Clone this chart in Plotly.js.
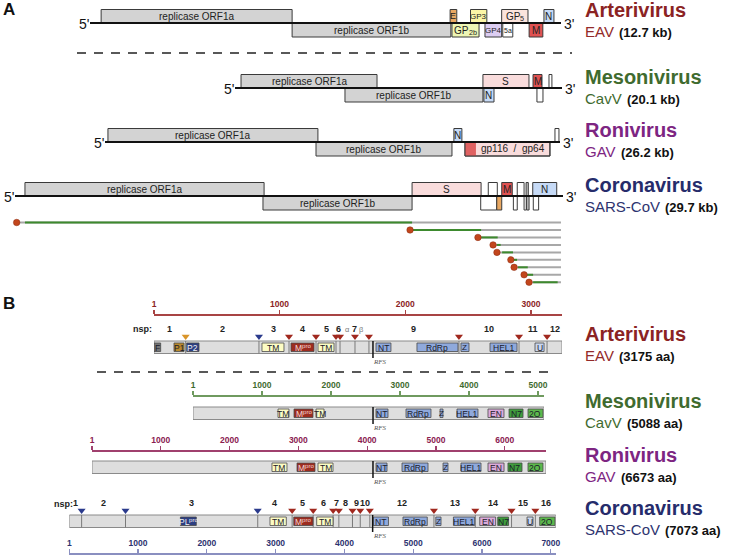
<!DOCTYPE html>
<html><head><meta charset="utf-8">
<script src="https://cdn.plot.ly/plotly-3.0.1.min.js"></script>
<style>html,body{margin:0;padding:0;background:#fff}#chart{width:731px;height:555px}</style>
</head><body><div id="chart"></div>
<script>
// ================= DATA =================
const genusNames = ['Arterivirus','Mesonivirus','Ronivirus','Coronavirus'];
const virusNames = ['EAV','CavV','GAV','SARS-CoV'];
const genomeKb   = [12.7, 20.1, 26.2, 29.7];
const proteinAa  = [3175, 5088, 6673, 7073];

// ---- Panel A: ORFs (kb), frame 1 = above the genome line, 0 = below ----
// label given as [main text, subscript]
const eavOrfLabel = [['replicase ORF1a',''],['replicase ORF1b',''],['E',''],['GP','2b'],['GP3',''],['GP4',''],['5a',''],['GP','5'],['M',''],['N','']];
const eavOrfStart = [0.30, 5.45, 9.71, 9.76, 10.26, 10.65, 11.13, 11.10, 11.84, 12.24];
const eavOrfEnd   = [5.45, 9.73, 9.89, 10.49, 10.70, 11.10, 11.40, 11.81, 12.21, 12.51];
const eavOrfFrame = [1,0,1,0,1,0,0,1,0,1];
const eavOrfKind  = ['rep','rep','E','GP2b','GP3','GP4','blank','GP5','M','N'];

const cavOrfLabel = [['replicase ORF1a',''],['replicase ORF1b',''],['N',''],['S',''],['M',''],['',''],['','']];
const cavOrfStart = [0.37, 6.76, 15.30, 15.24, 18.32, 18.56, 19.30];
const cavOrfEnd   = [8.73, 15.24, 15.92, 18.07, 18.87, 18.93, 19.48];
const cavOrfFrame = [1,0,0,1,1,0,1];
const cavOrfKind  = ['rep','rep','N','S','M','blank','blank'];

const gavOrfLabel = [['replicase ORF1a',''],['replicase ORF1b',''],['N',''],['',''],['',''],['','']];
const gavOrfStart = [0.17, 12.15, 20.09, 20.73, 20.73, 25.91];
const gavOrfEnd   = [12.26, 19.98, 20.55, 25.62, 21.36, 26.14];
const gavOrfFrame = [1,0,1,0,0,1];
const gavOrfKind  = ['rep','rep','N','gp','sig','blank'];
const gavGpLabel  = 'gp116  /  gp64';

const sarsOrfLabel = [['replicase ORF1a',''],['replicase ORF1b',''],['S',''],['',''],['',''],['',''],['M',''],['',''],['',''],['',''],['',''],['',''],['N',''],['','']];
const sarsOrfStart = [0.54, 13.44, 21.52, 25.65, 25.24, 26.11, 26.38, 27.01, 27.22, 27.70, 27.59, 27.73, 28.06, 28.09];
const sarsOrfEnd   = [13.50, 21.52, 25.26, 26.14, 26.11, 26.38, 26.95, 27.22, 27.59, 27.82, 27.71, 27.86, 29.36, 28.38];
const sarsOrfFrame = [1,0,1,1,0,0,1,0,1,1,0,0,1,0];
const sarsOrfKind  = ['rep','rep','S','blank','blank','E','M','blank','blank','gray','blank','gray','N','blank'];

// SARS-CoV genome + subgenomic mRNAs (kb)
const sgLeader    = [0.09, 21.41, 25.09, 25.91, 26.12, 26.87, 27.05, 27.59, 27.86];
const sgBodyStart = [0.54, 21.52, 25.26, 26.11, 26.40, 26.99, 27.26, 27.70, 28.08];
const sgBodyEnd   = [21.52, 25.26, 26.16, 26.32, 26.99, 27.21, 27.79, 28.08, 29.41];
const sgPolyEnd   = 29.59;

// ---- Panel B: polyproteins (aa) ----
const protBarEnd = [3247, 5088, 6600, 7073];
const rulerTicks = [[1,1000,2000,3000],[1,1000,2000,3000,4000,5000],[1,1000,2000,3000,4000,5000,6000],[1,1000,2000,3000,4000,5000,6000,7000]];
const protRfs    = [1743, 2610, 4085, 4410];

// domain label given as [main text, superscript]
const eavDomName  = [['F',''],['P1',''],['P2',''],['TM',''],['M','pro'],['TM',''],['NT',''],['RdRp',''],['Z',''],['HEL1',''],['U','']];
const eavDomStart = [1,160,261,860,1091,1306,1767,2093,2443,2674,3032];
const eavDomEnd   = [54,240,359,1035,1274,1433,1886,2419,2507,2889,3104];
const eavDomKind  = ['F','P1','P2','TM','Mpro','TM','blue','blue','blue','blue','U'];
const eavSites    = [253,836,1075,1290,1449,1481,1600,1711,2427,2905,3128];
const eavSiteKind = ['o','b','r','r','r','r','r','r','r','r','r'];
const eavNspBounds = [1,253,836,1075,1290,1449,1481,1711,2427,2905,3128,3247];
const eavNspLabels = ['1','2','3','4','5','6','7','9','10','11','12'];
const eavGreekBounds = [1481,1600,1711];
const eavGreekLabels = ['α','β'];

const cavDomName  = [['TM',''],['M','pro'],['TM',''],['NT',''],['RdRp',''],['Z',''],['HEL1',''],['EN',''],['N7',''],['2O','']];
const cavDomStart = [1233,1465,1784,2653,3088,3581,3827,4276,4581,4856];
const cavDomEnd   = [1392,1740,1900,2827,3450,3624,4131,4508,4784,5073];
const cavDomKind  = ['TM','Mpro','TM','blue','blue','blue','blue','EN','N7','O2'];

const gavDomName  = [['TM',''],['M','pro'],['TM',''],['NT',''],['RdRp',''],['Z',''],['HEL1',''],['EN',''],['N7',''],['2O','']];
const gavDomStart = [2617,2981,3286,4129,4507,5103,5364,5757,6047,6338];
const gavDomEnd   = [2835,3242,3504,4289,4885,5175,5655,5990,6251,6556];
const gavDomKind  = ['TM','Mpro','TM','blue','blue','blue','blue','EN','N7','O2'];

const sarsDomName  = [['PL','pro'],['TM',''],['M','pro'],['TM',''],['NT',''],['RdRp',''],['Z',''],['HEL1',''],['EN',''],['N7',''],['U',''],['2O','']];
const sarsDomStart = [1616,2918,3263,3597,4420,4851,5328,5584,5967,6228,6654,6838];
const sarsDomEnd   = [1847,3155,3543,3834,4640,5204,5404,5893,6198,6385,6741,7060];
const sarsDomKind  = ['PL','TM','Mpro','TM','blue','blue','blue','blue','EN','N7','U','O2'];
const sarsSites    = [180,818,2740,3240,3546,3836,3919,4117,4230,4369,5301,5902,6429,6775];
const sarsSiteKind = ['b','b','b','r','r','r','r','r','r','r','r','r','r','r'];
const sarsNspBounds = [1,180,818,2740,3240,3546,3836,3919,4117,4230,4369,5301,5902,6429,6775,7073];
const sarsNspLabels = ['1','2','3','4','5','6','7','8','9','10','12','13','14','15','16'];

// ================= LAYOUT / STYLE =================
const W = 731, H = 555;
const FAM = 'Liberation Sans';
const FONT = 'Liberation Sans, Arial, Helvetica, sans-serif';
const genusColor = ['#8b2323','#3f6b2f','#7d2582','#262c6b'];
const virusColor = ['#932a2a','#3f6b2f','#7d2582','#2d336f'];
const rulerLine  = ['#a84444','#6f9a5f','#a0406e','#8a8fc0'];
const rulerText  = ['#8b2323','#3f6b2f','#8a2050','#2d336f'];

const genomeBaseY = [23, 88, 142, 196];
const genomePx    = [[90,561],[235,562],[105,560],[15,563]];
const orfH = 13.5;
const genusLabelYA = [10, 77, 130, 185];

const protBarTop = [341, 407, 461, 515];
const protBarH = 12.5;
const rulerY   = [314, 395, 450, 553];
const protPx1  = [154, 193, 92, 69.3];
const protPxPerAa = [0.1257, 0.069, 0.0688, 0.0688];
const genusLabelYB = [334, 401, 455, 508];

const orfFill = {rep:'#d3d3d3', E:'#e9a862', GP2b:'#eef6b4', GP3:'#fbf6a6', GP4:'#dccdf2', GP5:'#fbe4dc',
  M:'#e05252', N:'#c6daf6', S:'#f9dcdc', gp:'#f9dcdc', sig:'#e06262', blank:'#ffffff', gray:'#c4c4c4'};
const orfFontSize = {rep:10, E:9, GP2b:10, GP3:8, GP4:8, GP5:10, M:10, N:10, S:10, gp:10, blank:7, sig:7, gray:7};
const domFill = {F:'#767676', P1:'#b9892e', P2:'#2d3f82', PL:'#2d3f82', TM:'#fdfcc4', Mpro:'#9c2c20',
  blue:'#8fa9dc', U:'#c9d6ef', EN:'#dbaadb', N7:'#3f9c3c', O2:'#5cb84c'};
const domText = {P2:'#f2f2f2', PL:'#f2f2f2', Mpro:'#f4d8d2'};
const siteColor = {o:'#d9952a', b:'#2a3a8c', r:'#a0281e'};

const shapes = [], annotations = [], traces = [];
const ctx = document.createElement('canvas').getContext('2d');
function measure(text, size, bold){
  ctx.font = (bold ? 'bold ' : '') + size + 'px "' + FAM + '", Arial, sans-serif';
  return ctx.measureText(text).width;
}

function rect(xref, x0, x1, y0, y1, fill, lc, lw){
  shapes.push({type:'rect', xref:xref, yref:'y', x0:x0, x1:x1, y0:y0, y1:y1,
    fillcolor:fill, line:{color:lc, width:lw}, layer:'above'});
}
function seg(xref, x0, x1, y0, y1, color, w, dash){
  shapes.push({type:'line', xref:xref, yref:'y', x0:x0, x1:x1, y0:y0, y1:y1,
    line:{color:color, width:w, dash:dash||'solid'}, layer:'above'});
}
function txt(xref, x, y, text, size, color, extra, fontExtra){
  annotations.push(Object.assign({xref:xref, yref:'y', x:x, y:y, text:text, showarrow:false,
    font:Object.assign({family:FONT, size:size, color:color}, fontExtra||{}),
    xanchor:'center', yanchor:'middle', borderpad:0, borderwidth:0}, extra||{}));
}
// centred label with an optional raised (sup) or lowered (sub) small part
function lbl(xref, xc, yc, main, small, size, color, lower){
  if (!small) { txt(xref, xc, yc, main, size, color); return; }
  const s2 = size * 0.72;
  const w1 = measure(main, size), w2 = measure(small, s2), tot = w1 + w2;
  txt(xref, xc, yc, main, size, color, {xanchor:'left', xshift:-tot / 2});
  txt(xref, xc, yc, small, s2, color, {xanchor:'left', xshift:-tot / 2 + w1, yshift: lower ? -2.5 : 2.5});
}

// ---------- Panel A ----------
const orfSets = [
  [eavOrfLabel, eavOrfStart, eavOrfEnd, eavOrfFrame, eavOrfKind],
  [cavOrfLabel, cavOrfStart, cavOrfEnd, cavOrfFrame, cavOrfKind],
  [gavOrfLabel, gavOrfStart, gavOrfEnd, gavOrfFrame, gavOrfKind],
  [sarsOrfLabel, sarsOrfStart, sarsOrfEnd, sarsOrfFrame, sarsOrfKind]
];
orfSets.forEach((set, g) => {
  const xr = 'x' + (g + 2), base = genomeBaseY[g];
  const [lab, st, en, fr, kd] = set;
  for (let k = 0; k < st.length; k++) {
    const y0 = fr[k] ? base - orfH : base, y1 = fr[k] ? base : base + orfH + 0.5;
    const lc = kd[k] === 'sig' ? 'rgba(0,0,0,0)' : '#3a3a3a';
    rect(xr, st[k], en[k], y0, y1, orfFill[kd[k]], lc, 1);
    if (lab[k][0]) lbl(xr, (st[k] + en[k]) / 2, (y0 + y1) / 2, lab[k][0], lab[k][1], orfFontSize[kd[k]], '#222', true);
  }
  if (g === 2) {
    const gi = gavOrfKind.indexOf('gp'), si = gavOrfKind.indexOf('sig');
    rect(xr, gavOrfStart[gi], gavOrfEnd[gi], base, base + orfH + 0.5, 'rgba(0,0,0,0)', '#3a3a3a', 1);
    txt(xr, (gavOrfEnd[si] + gavOrfEnd[gi]) / 2, base + orfH / 2, gavGpLabel, 10, '#222');
  }
  seg(xr, 0, genomeKb[g], base, base, '#111', 2);
  txt(xr, 0, base + 1, "5'", 14, '#111', {xanchor:'right', xshift:-1});
  txt(xr, genomeKb[g], base + 1, "3'", 14, '#111', {xanchor:'left', xshift:3});
  traces.push({type:'scatter', x:[0, genomeKb[g]], y:[-50, -50], xaxis:xr, yaxis:'y', mode:'markers',
    marker:{opacity:0}, hoverinfo:'skip', showlegend:false});
  txt('x', 585, genusLabelYA[g], '<b>' + genusNames[g] + '</b>', 20, genusColor[g], {xanchor:'left'});
  const wName = measure(virusNames[g] + ' ', 15);
  txt('x', 585, genusLabelYA[g] + 21, virusNames[g], 15, virusColor[g], {xanchor:'left'});
  txt('x', 585 + wName + 1, genusLabelYA[g] + 22, '<b>(' + genomeKb[g].toFixed(1) + ' kb)</b>', 13, '#111', {xanchor:'left'});
});

// sub-genomic mRNAs (SARS-CoV axis)
const sgY0 = 222.5, sgDy = 7.47;
const grayX = [], grayY = [], greenX = [], greenY = [], dotY = [];
sgLeader.forEach((d, i) => {
  const y = sgY0 + i * sgDy;
  grayX.push(d, sgPolyEnd, null); grayY.push(y, y, null);
  greenX.push(sgBodyStart[i], sgBodyEnd[i], null); greenY.push(y, y, null);
  dotY.push(y);
});
traces.push({type:'scatter', x:grayX, y:grayY, xaxis:'x5', yaxis:'y', mode:'lines',
  line:{color:'#a8a8a8', width:2}, hoverinfo:'skip', showlegend:false, cliponaxis:false});
traces.push({type:'scatter', x:greenX, y:greenY, xaxis:'x5', yaxis:'y', mode:'lines',
  line:{color:'#3d8a2e', width:2}, hoverinfo:'skip', showlegend:false, cliponaxis:false});
traces.push({type:'scatter', x:sgLeader, y:dotY, xaxis:'x5', yaxis:'y', mode:'markers',
  marker:{symbol:'circle', size:6.5, color:'#c2461c', line:{color:'#8a2a10', width:0.5}},
  hoverinfo:'skip', showlegend:false, cliponaxis:false});

seg('x', 77, 572, 53, 53, '#222', 1.5, '9px,8px');

// ---------- Panel B ----------
const protSets = [
  {dn:eavDomName, ds:eavDomStart, de:eavDomEnd, dk:eavDomKind, sites:eavSites, sk:eavSiteKind, nb:eavNspBounds, nl:eavNspLabels},
  {dn:cavDomName, ds:cavDomStart, de:cavDomEnd, dk:cavDomKind, sites:[], sk:[], nb:null, nl:null},
  {dn:gavDomName, ds:gavDomStart, de:gavDomEnd, dk:gavDomKind, sites:[], sk:[], nb:null, nl:null},
  {dn:sarsDomName, ds:sarsDomStart, de:sarsDomEnd, dk:sarsDomKind, sites:sarsSites, sk:sarsSiteKind, nb:sarsNspBounds, nl:sarsNspLabels}
];
const layoutAxes = {};
protSets.forEach((P, i) => {
  const xr = 'x' + (i + 6), top = protBarTop[i], bot = top + protBarH, end = protBarEnd[i];
  layoutAxes['xaxis' + (i + 6)] = {
    domain:[protPx1[i] / W, (protPx1[i] + (end - 1) * protPxPerAa[i]) / W],
    range:[1, end], anchor:'free', position:1 - rulerY[i] / H, side:'top',
    showline:true, linecolor:rulerLine[i], linewidth:1.5, ticks:'outside', ticklen:4, tickwidth:1.2,
    tickcolor:rulerLine[i], tickmode:'array', tickvals:rulerTicks[i],
    ticktext:rulerTicks[i].map(v => String(v)),
    tickfont:{family:FONT, size:8.5, color:rulerText[i], weight:'bold'}, showgrid:false, zeroline:false, fixedrange:true
  };
  rect(xr, 1, end, top, bot, '#dedede', '#8a8a8a', 1);
  P.sites.forEach(s => seg(xr, s, s, top, bot, '#7a7a7a', 1));
  for (let k = 0; k < P.ds.length; k++) {
    rect(xr, P.ds[k], P.de[k], top + 2, bot - 2, domFill[P.dk[k]], '#4a4a4a', 0.8);
    const fs = P.dn[k][0] === 'Z' ? 8 : 8.5;
    lbl(xr, (P.ds[k] + P.de[k]) / 2, (top + bot) / 2 + 0.3, P.dn[k][0], P.dn[k][1], fs, domText[P.dk[k]] || '#1a1a2a', false);
  }
  seg(xr, protRfs[i], protRfs[i], top, bot + 4.5, '#111', 1.5);
  txt(xr, protRfs[i], bot + 8, 'RFS', 7, '#555', {xanchor:'left'},
      {family:'Liberation Serif, Times New Roman, serif', style:'italic'});
  traces.push({type:'scatter', x:P.sites.length ? P.sites : [1, end], y:P.sites.length ? P.sites.map(() => top - 4.5) : [-50, -50],
    xaxis:xr, yaxis:'y', mode:'markers',
    marker:{symbol:'triangle-down', size:7, color:P.sites.length ? P.sk.map(k => siteColor[k]) : '#fff', opacity:P.sites.length ? 1 : 0, line:{width:0}},
    hoverinfo:'skip', showlegend:false, cliponaxis:false});
  if (P.nb) {
    const ly = top - 12;
    P.nl.forEach((l, k) => txt(xr, (P.nb[k] + P.nb[k + 1]) / 2, ly, l, 9, '#222', {}, {weight:'bold'}));
  }
  txt('x', 585, genusLabelYB[i], genusNames[i], 20, genusColor[i], {xanchor:'left'}, {weight:'bold'});
  const wName = measure(virusNames[i] + ' ', 15);
  txt('x', 585, genusLabelYB[i] + 21, virusNames[i], 15, virusColor[i], {xanchor:'left'});
  txt('x', 585 + wName + 1, genusLabelYB[i] + 22, '(' + proteinAa[i] + ' aa)', 13, '#111', {xanchor:'left'}, {weight:'bold'});
});
// alpha / beta labels of EAV nsp7
eavGreekLabels.forEach((l, k) => txt('x6', (eavGreekBounds[k] + eavGreekBounds[k + 1]) / 2, protBarTop[0] - 12, l, 7.5, '#777'));
txt('x', 152, protBarTop[0] - 12, 'nsp:', 9, '#222', {xanchor:'right'}, {weight:'bold'});
txt('x', 73, protBarTop[3] - 11, 'nsp:', 9, '#222', {xanchor:'right'}, {weight:'bold'});

seg('x', 97, 555, 372, 372, '#222', 1.5, '9px,8px');

// Panel letters
txt('x', 9, 9, 'A', 17, '#111', {}, {weight:'bold'});
txt('x', 9, 303, 'B', 17, '#111', {}, {weight:'bold'});

// ---------- Layout ----------
const layout = Object.assign({
  width:W, height:H, autosize:false,
  margin:{l:0, r:0, t:0, b:0, pad:0},
  paper_bgcolor:'#ffffff', plot_bgcolor:'rgba(0,0,0,0)',
  showlegend:false, hovermode:false,
  font:{family:FONT},
  xaxis:{domain:[0,1], range:[0,W], visible:false, fixedrange:true},
  yaxis:{domain:[0,1], range:[H,0], visible:false, fixedrange:true},
  shapes:shapes, annotations:annotations
}, layoutAxes);
for (let g = 0; g < 4; g++) {
  layout['xaxis' + (g + 2)] = {domain:[genomePx[g][0] / W, genomePx[g][1] / W], range:[0, genomeKb[g]],
    visible:false, anchor:'y', fixedrange:true};
}
traces.unshift({type:'scatter', x:[0, W], y:[-50, -50], xaxis:'x', yaxis:'y', mode:'markers', marker:{opacity:0}, hoverinfo:'skip', showlegend:false});

Plotly.newPlot('chart', traces, layout, {staticPlot:true, displayModeBar:false});
</script>
</body></html>
